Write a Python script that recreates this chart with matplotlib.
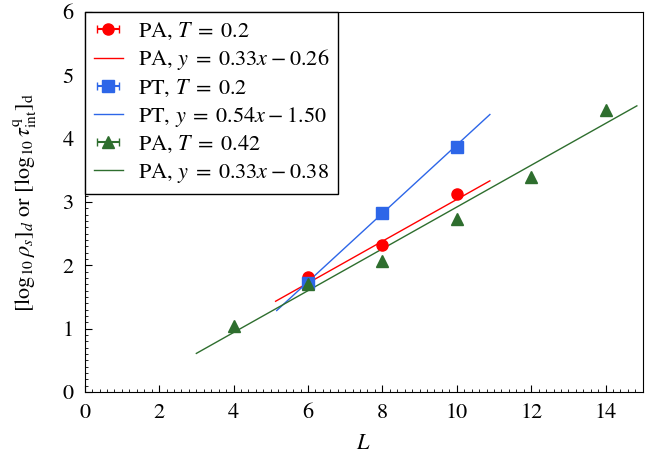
import numpy as np
import matplotlib
matplotlib.use('Agg')
import matplotlib.pyplot as plt
from matplotlib.ticker import MultipleLocator

plt.rcParams['font.family'] = 'STIXGeneral'
plt.rcParams['mathtext.fontset'] = 'stix'
plt.rcParams['font.size'] = 16

# data
L_pa02 = [6, 8, 10]
y_pa02 = [1.81, 2.32, 3.13]
L_pt02 = [6, 8, 10]
y_pt02 = [1.72, 2.83, 3.87]
L_pa042 = [4, 6, 8, 10, 12, 14]
y_pa042 = [1.04, 1.71, 2.07, 2.73, 3.39, 4.45]

# fits: (slope, intercept, x range)
fit_pa02 = (0.33, -0.26, [5.13, 10.89])
fit_pt02 = (0.54, -1.50, [5.16, 10.89])
fit_pa042 = (0.33, -0.38, [3.0, 14.84])

red = '#ff0000'
blue = '#2d66e8'
green = '#2e6e2e'

fig, ax = plt.subplots(figsize=(6.62, 4.58), dpi=100)


def fitline(fit):
    a, b, xr = fit
    xs = np.array(xr)
    return xs, a * xs + b


h = []
h.append(ax.errorbar(L_pa02, y_pa02, xerr=0, fmt='o', color=red, ms=8, capsize=3,
                     label=r'PA, $T\;=\;0.2$', zorder=3))
xs, ys = fitline(fit_pa02)
h += ax.plot(xs, ys, color=red, lw=1, label=r'PA, $y\;=\;0.33x\:-\:0.26$')
h.append(ax.errorbar(L_pt02, y_pt02, xerr=0, fmt='s', color=blue, ms=8, capsize=3,
                     label=r'PT, $T\;=\;0.2$', zorder=3))
xs, ys = fitline(fit_pt02)
h += ax.plot(xs, ys, color=blue, lw=1, label=r'PT, $y\;=\;0.54x\:-\:1.50$')
h.append(ax.errorbar(L_pa042, y_pa042, xerr=0, fmt='^', color=green, ms=8, capsize=3,
                     label=r'PA, $T\;=\;0.42$', zorder=3))
xs, ys = fitline(fit_pa042)
h += ax.plot(xs, ys, color=green, lw=1, label=r'PA, $y\;=\;0.33x\:-\:0.38$')

ax.set_xlim(0, 15)
ax.set_ylim(0, 6)
ax.xaxis.set_major_locator(MultipleLocator(2))
ax.xaxis.set_minor_locator(MultipleLocator(0.2))
ax.yaxis.set_major_locator(MultipleLocator(1))
ax.yaxis.set_minor_locator(MultipleLocator(0.1))
ax.tick_params(which='both', direction='in', top=False, right=False, labelsize=16)
ax.tick_params(which='major', length=5, pad=8)
ax.tick_params(which='minor', length=2.5)

ax.set_xlabel(r'$L$', fontsize=16, labelpad=8)
ax.set_ylabel(r'$[\log_{10}\rho_s]_d$ or $[\log_{10}\tau^{\mathrm{q}}_{\mathrm{int}}]_{\mathrm{d}}$',
              fontsize=16, labelpad=17)

leg = ax.legend(handles=h, loc='upper left', borderaxespad=0, fancybox=False,
                edgecolor='black', framealpha=1, handlelength=1.3,
                handletextpad=0.7, labelspacing=0.25, borderpad=0.4)
leg.get_frame().set_linewidth(1)

fig.subplots_adjust(left=0.128, right=0.971, top=0.974, bottom=0.144)
fig.savefig('out.png', dpi=100)
